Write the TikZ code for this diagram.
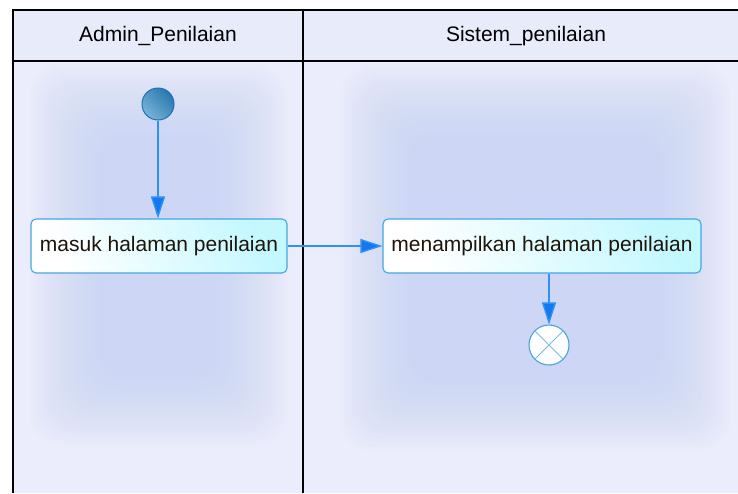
\documentclass[tikz,border=0pt]{standalone}
\usepackage{fontspec}
\setmainfont{Liberation Sans}
\usetikzlibrary{arrows.meta}
\definecolor{lanebg}{RGB}{236,237,252}
\definecolor{glowc}{RGB}{196,210,244}
\definecolor{headbg}{RGB}{232,235,250}
\definecolor{flow}{RGB}{45,145,245}
\definecolor{flowhead}{RGB}{20,120,240}
\definecolor{boxline}{RGB}{70,165,225}
\definecolor{boxfill}{RGB}{196,248,255}
\definecolor{initlight}{RGB}{120,180,215}
\definecolor{initdark}{RGB}{40,120,175}
\definecolor{initline}{RGB}{30,110,180}
\definecolor{crossc}{RGB}{120,190,230}
\definecolor{txt}{RGB}{30,20,10}
\tikzset{
  lanehead/.style={font=\fontsize{21}{24}\selectfont, text=black, inner sep=0pt},
  actbox/.style={draw=boxline, line width=1.1pt, rounded corners=5pt,
    left color=white, right color=boxfill, shading angle=120,
    minimum height=54pt, inner sep=0pt, text=txt,
    font=\fontsize{21}{24}\selectfont},
  initnode/.style={circle, draw=initline, line width=1pt, minimum size=32pt,
    inner sep=0pt, left color=initlight, right color=initdark, shading angle=135},
  finalnode/.style={circle, draw=boxline, line width=1.1pt, fill=white,
    minimum size=40pt, inner sep=0pt},
  crossline/.style={draw=crossc, line width=1pt},
  flowarrow/.style={draw=flow, line width=1.4pt,
    -{Triangle[length=22pt,width=14pt,fill=flowhead]}},
  lanerule/.style={draw=black, line width=1.1pt},
  glowlayer/.style={fill=glowc, opacity=0.06, rounded corners=30pt},
}
\begin{document}
\begin{tikzpicture}[x=1pt,y=-1pt]
\useasboundingbox (0,0) rectangle (738,493);
\fill[white] (0,0) rectangle (738,493);
\fill[lanebg] (13,10) rectangle (738,493);
% glows
\foreach \i in {0,...,17} {
  \fill[glowlayer] (30+4*\i,65+4*\i) rectangle (287-4*\i,445-4*\i);
  \fill[glowlayer] (340+4*\i,65+4*\i) rectangle (730-4*\i,450-4*\i);
}
\fill[headbg] (13,10) rectangle (738,61);
\draw[lanerule] (13,493) -- (13,10) -- (738,10);
\draw[lanerule] (13,61) -- (738,61);
\draw[lanerule] (303,10) -- (303,493);
\node[lanehead] (h1) at (158,36) {Admin\_Penilaian};
\node[lanehead] (h2) at (526,36) {Sistem\_penilaian};
\node[initnode] (init) at (158,104) {};
\node[actbox, minimum width=256pt] (a1) at (159,246) {masuk halaman penilaian};
\node[actbox, minimum width=318pt] (a2) at (542,246) {menampilkan halaman penilaian};
\node[finalnode] (fin) at (549,345) {};
\draw[crossline] (fin.45) -- (fin.225) (fin.135) -- (fin.315);
\draw[flowarrow] (init) -- (init |- a1.north);
\draw[flowarrow] (a1) -- (a2);
\draw[flowarrow] (a2.south -| fin) -- (fin);
\end{tikzpicture}
\end{document}
